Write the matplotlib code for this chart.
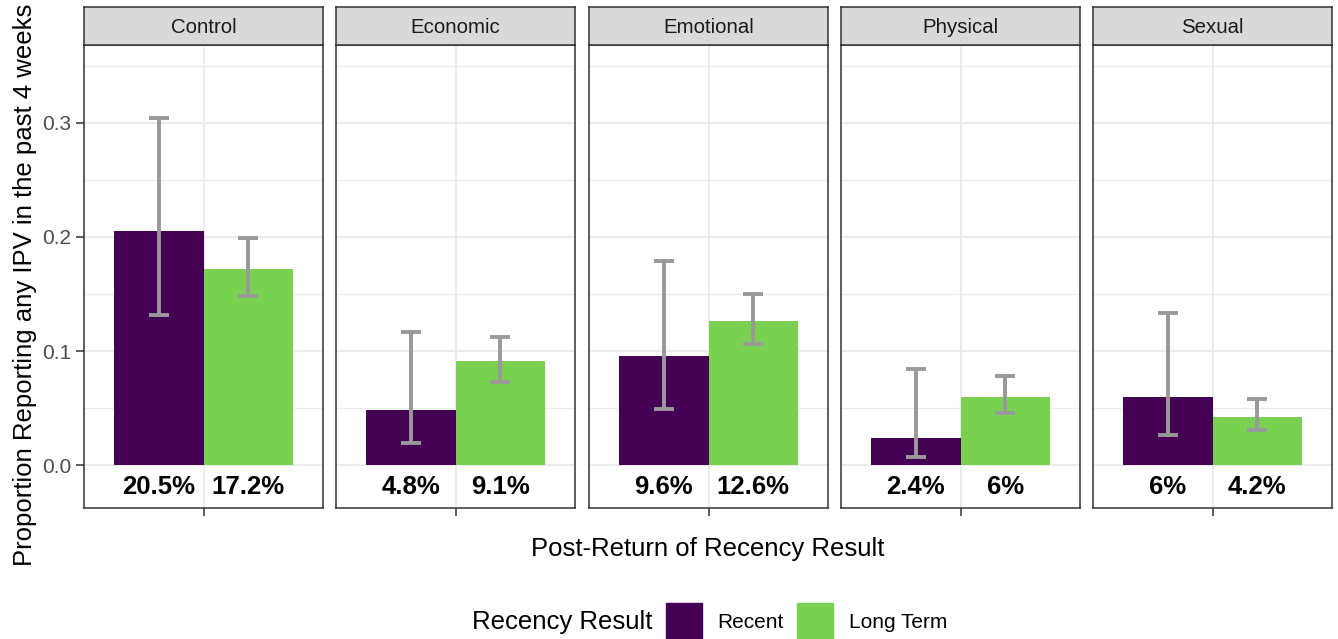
import matplotlib
matplotlib.use("Agg")
import matplotlib.pyplot as plt
from matplotlib.patches import Rectangle

plt.rcParams['font.family'] = ['Liberation Sans', 'DejaVu Sans']

# IPV type panels
panels = ["Control", "Economic", "Emotional", "Physical", "Sexual"]
groups = ["Recent", "Long Term"]

# Proportions per panel: [Recent, Long Term]
recent_vals = [0.205, 0.048, 0.096, 0.024, 0.060]
longterm_vals = [0.172, 0.091, 0.126, 0.060, 0.042]

# Confidence intervals
recent_lo = [0.132, 0.019, 0.049, 0.007, 0.026]
recent_hi = [0.304, 0.117, 0.179, 0.084, 0.133]
longterm_lo = [0.148, 0.073, 0.106, 0.046, 0.031]
longterm_hi = [0.199, 0.112, 0.150, 0.078, 0.058]

# Bar labels
recent_labels = ["20.5%", "4.8%", "9.6%", "2.4%", "6%"]
longterm_labels = ["17.2%", "9.1%", "12.6%", "6%", "4.2%"]

colors = {"Recent": "#440154", "Long Term": "#7AD151"}
err_color = "#999999"
grid_color = "#EBEBEB"
border_color = "#333333"

W, H = 1338, 639
fig = plt.figure(figsize=(W / 100, H / 100), dpi=100)

panel_lefts = [84, 336, 589, 841, 1093]
panel_w = 239
panel_top = 45
panel_bot = 508
strip_top = 7

ymin, ymax = -0.0377, 0.3684
dodge = 0.225
bar_w = 0.45
cap = 0.05

for i, name in enumerate(panels):
    left = panel_lefts[i]
    ax = fig.add_axes([left / W, 1 - panel_bot / H, panel_w / W, (panel_bot - panel_top) / H])
    ax.set_xlim(0.4, 1.6)
    ax.set_ylim(ymin, ymax)

    # grid
    for y in [0.05, 0.15, 0.25, 0.35]:
        ax.axhline(y, color=grid_color, lw=0.9, zorder=0)
    for y in [0.0, 0.1, 0.2, 0.3]:
        ax.axhline(y, color=grid_color, lw=1.5, zorder=0)
    ax.axvline(1.0, color=grid_color, lw=1.5, zorder=0)

    vals = [recent_vals[i], longterm_vals[i]]
    los = [recent_lo[i], longterm_lo[i]]
    his = [recent_hi[i], longterm_hi[i]]
    labs = [recent_labels[i], longterm_labels[i]]
    for j, g in enumerate(groups):
        xc = 1 + (dodge if j else -dodge)
        ax.bar(xc, vals[j], width=bar_w, color=colors[g], zorder=2)
        ax.plot([xc, xc], [los[j], his[j]], color=err_color, lw=2.8, zorder=3,
                solid_capstyle='butt')
        for yy in (los[j], his[j]):
            ax.plot([xc - cap, xc + cap], [yy, yy], color=err_color, lw=2.8,
                    zorder=3, solid_capstyle='butt')
        ax.text(xc, -0.019, labs[j], ha='center', va='center',
                fontsize=18.5, fontweight='bold', color='black', zorder=4)

    for s in ax.spines.values():
        s.set_color(border_color)
        s.set_linewidth(1.1)
    ax.set_xticks([1.0])
    ax.set_xticklabels([])
    ax.tick_params(axis='x', length=6, width=1.1, color=border_color)
    if i == 0:
        ax.set_yticks([0.0, 0.1, 0.2, 0.3])
        ax.set_yticklabels(["0.0", "0.1", "0.2", "0.3"], fontsize=15, color="#4D4D4D")
        ax.tick_params(axis='y', length=6, width=1.1, color=border_color, pad=3)
    else:
        ax.set_yticks([])
    ax.set_facecolor('white')

    # strip
    sax = fig.add_axes([left / W, 1 - panel_top / H, panel_w / W, (panel_top - strip_top) / H])
    sax.set_facecolor('#D9D9D9')
    sax.set_xticks([])
    sax.set_yticks([])
    for s in sax.spines.values():
        s.set_color(border_color)
        s.set_linewidth(1.1)
    sax.text(0.5, 0.47, name, ha='center', va='center', fontsize=14.7,
             color='#1A1A1A', transform=sax.transAxes)

# axis titles
fig.text(25 / W, 1 - 285 / H, "Proportion Reporting any IPV in the past 4 weeks",
         rotation=90, ha='center', va='center', fontsize=18.5)
fig.text(708 / W, 1 - 549 / H, "Post-Return of Recency Result",
         ha='center', va='center', fontsize=18.5)

# legend
fig.text(472 / W, 1 - 622 / H, "Recency Result", ha='left', va='center', fontsize=18.5)
fig.patches.append(Rectangle((666 / W, 1 - 639 / H), 36 / W, 36 / H,
                             transform=fig.transFigure, color=colors["Recent"]))
fig.patches.append(Rectangle((797 / W, 1 - 639 / H), 36 / W, 36 / H,
                             transform=fig.transFigure, color=colors["Long Term"]))
fig.text(717 / W, 1 - 622 / H, "Recent", ha='left', va='center', fontsize=15)
fig.text(849 / W, 1 - 622 / H, "Long Term", ha='left', va='center', fontsize=15)

fig.savefig("out.png", dpi=100, facecolor='white')
